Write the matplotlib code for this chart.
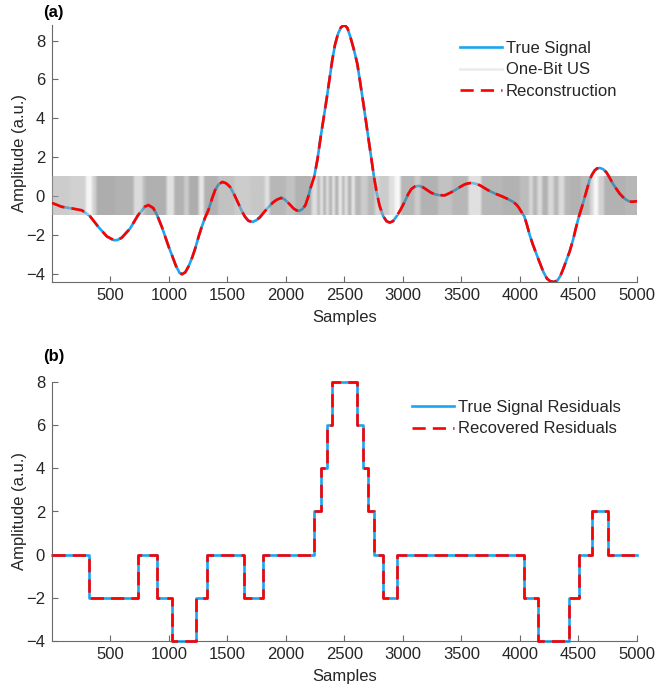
import numpy as np
import matplotlib.pyplot as plt
from matplotlib.lines import Line2D

plt.rcParams['font.family'] = ['Liberation Sans', 'DejaVu Sans']

# (a) true signal (sample index, amplitude)
sig_x = [1, 85, 170, 256, 320, 398, 469, 530, 560, 597, 668, 735, 795, 824, 866, 900,
         940, 980, 1000, 1026, 1060, 1090, 1112, 1140, 1170, 1200, 1225, 1256, 1280,
         1310, 1337, 1365, 1394, 1425, 1457, 1490, 1523, 1560, 1594, 1625, 1651, 1680,
         1714, 1750, 1780, 1815, 1851, 1890, 1923, 1960, 1990, 2030, 2066, 2090, 2114,
         2140, 2166, 2190, 2209, 2242, 2270, 2296, 2322, 2348, 2372, 2396, 2420, 2445,
         2470, 2500, 2525, 2550, 2580, 2610, 2633, 2656, 2680, 2704, 2728, 2752, 2775,
         2800, 2832, 2860, 2886, 2915, 2951, 2980, 3014, 3045, 3071, 3100, 3137, 3170,
         3200, 3240, 3271, 3310, 3357, 3400, 3443, 3490, 3529, 3560, 3586, 3620, 3657,
         3690, 3729, 3760, 3787, 3830, 3872, 3910, 3943, 3970, 3990, 4010, 4037, 4060,
         4085, 4110, 4135, 4160, 4199, 4230, 4256, 4290, 4320, 4345, 4370, 4398, 4425,
         4454, 4480, 4504, 4530, 4554, 4580, 4596, 4618, 4639, 4660, 4682, 4710, 4738,
         4765, 4795, 4825, 4852, 4880, 4909, 4930, 4952, 4975, 5000]
sig_y = [-0.36, -0.56, -0.64, -0.74, -1.0, -1.6, -2.08, -2.28, -2.27, -2.15, -1.68, -1.0,
         -0.55, -0.47, -0.62, -1.0, -1.6, -2.3, -2.65, -3.05, -3.6, -3.95, -4.03, -3.93,
         -3.6, -3.15, -2.7, -2.05, -1.6, -1.1, -0.74, -0.2, 0.29, 0.6, 0.72, 0.65, 0.46,
         0.05, -0.40, -0.8, -1.08, -1.28, -1.34, -1.24, -1.08, -0.82, -0.57, -0.33, -0.19,
         -0.10, -0.18, -0.42, -0.65, -0.74, -0.77, -0.68, -0.48, -0.05, 0.38, 1.0, 1.9,
         3.0, 4.0, 5.0, 6.0, 7.0, 7.8, 8.35, 8.68, 8.8, 8.65, 8.2, 7.55, 6.8, 5.9, 5.0,
         4.0, 3.0, 2.0, 1.0, 0.2, -0.5, -1.05, -1.3, -1.37, -1.3, -1.0, -0.7, -0.31, 0.1,
         0.35, 0.48, 0.52, 0.45, 0.33, 0.17, 0.09, 0.04, 0.03, 0.15, 0.29, 0.47, 0.60,
         0.65, 0.67, 0.63, 0.55, 0.43, 0.29, 0.2, 0.12, 0.02, -0.09, -0.2, -0.31, -0.45,
         -0.6, -0.8, -1.05, -1.5, -2.05, -2.5, -2.9, -3.3, -3.9, -4.25, -4.38, -4.43,
         -4.35, -4.12, -3.75, -3.3, -2.85, -2.25, -1.6, -1.05, -0.55, -0.05, 0.5, 0.84,
         1.12, 1.32, 1.42, 1.44, 1.38, 1.22, 0.95, 0.62, 0.35, 0.12, -0.06, -0.2, -0.27,
         -0.3, -0.29, -0.27]
recon_y = sig_y  # reconstruction lies on top of the true signal

# one-bit samples: apparent grey level of the +-1 band between these sample edges
bit_edges = [1, 150, 290, 345, 380, 540, 700, 775, 800, 980,
             1045, 1130, 1170, 1255, 1300, 1420, 1560, 1700, 1820, 1860,
             2000, 2080, 2220, 2270, 2290, 2320, 2340, 2370, 2395, 2420,
             2450, 2480, 2500, 2530, 2560, 2590, 2640, 2700, 2760, 2800,
             2880, 2930, 2980, 3100, 3150, 3300, 3420, 3560, 3670, 3850,
             4000, 4080, 4110, 4150, 4190, 4240, 4290, 4330, 4380, 4430,
             4520, 4600, 4630, 4670, 4720, 4800, 4900, 5000]
bit_grey = [0.80, 0.82, 0.96, 0.82, 0.68, 0.70, 0.86, 0.75, 0.69, 0.88,
            0.70, 0.80, 0.68, 0.90, 0.70, 0.76, 0.80, 0.78, 0.88, 0.72,
            0.76, 0.70, 0.87, 0.70, 0.88, 0.68, 0.86, 0.70, 0.90, 0.70,
            0.92, 0.70, 0.88, 0.70, 0.90, 0.72, 0.80, 0.72, 0.84, 0.80,
            0.88, 0.97, 0.72, 0.80, 0.70, 0.76, 0.72, 0.88, 0.72, 0.70,
            0.74, 0.85, 0.72, 0.86, 0.70, 0.85, 0.72, 0.86, 0.72, 0.70,
            0.74, 0.85, 0.97, 0.82, 0.70, 0.70, 0.72]

# (b) residuals: step starts and levels
res_x = [1, 320, 735, 900, 1026, 1231, 1322, 1644, 1806, 2242, 2296, 2348, 2396,
         2610, 2656, 2704, 2752, 2832, 2951, 4037, 4151, 4416, 4504, 4618, 4755, 5000]
res_y = [0, -2, 0, -2, -4, -2, 0, -2, 0, 2, 4, 6, 8, 6, 4, 2, 0, -2, 0, -2, -4, -2,
         0, 2, 0, 0]
rec_res_y = res_y

blue = '#1aa7ef'
red = '#ff0000'
txt = '#262626'
axc = '#6a6a6a'
fs = 12

fig = plt.figure(figsize=(6.56, 6.89), dpi=100)
ax1 = fig.add_axes([52/656, 1 - 282/689, 585/656, 257/689])
ax2 = fig.add_axes([52/656, 1 - 641/689, 585/656, 259/689])


def style(ax):
    for s in ['top', 'right']:
        ax.spines[s].set_visible(False)
    for s in ['left', 'bottom']:
        ax.spines[s].set_color(axc)
        ax.spines[s].set_linewidth(0.8)
    ax.tick_params(direction='in', length=4, width=0.8, color=axc,
                   labelcolor=txt, labelsize=fs)
    ax.tick_params(axis='x', pad=4.5)
    ax.tick_params(axis='y', pad=5)
    ax.set_xlim(1, 5000)
    ax.set_xticks(np.arange(500, 5001, 500))
    ax.set_xlabel('Samples', fontsize=fs, color=txt, labelpad=5)
    ax.set_ylabel('Amplitude (a.u.)', fontsize=fs, color=txt, labelpad=-1)


# ---- (a)
ax1.plot(sig_x, sig_y, color=blue, lw=1.9, zorder=2)
a = 0.55
cols = (np.array(bit_grey) - (1 - a)) / a
# one column per sample, softened a little like the overlapping one-bit strokes
n = np.arange(1, 5001)
row = cols[np.clip(np.searchsorted(bit_edges, n, side='right') - 1, 0, len(cols) - 1)]
k = np.ones(25) / 25
row = np.convolve(np.pad(row, 12, mode='edge'), k, mode='valid')
ax1.imshow(row[None, :], cmap='gray', vmin=0, vmax=1, alpha=a, aspect='auto',
           extent=[1, 5000, -1, 1], interpolation='bilinear', zorder=3)
ax1.plot(sig_x, recon_y, color=red, lw=1.9, dashes=(5, 2.7), zorder=4)
style(ax1)
ax1.set_xlim(1, 5000)
ax1.set_ylim(min(sig_y), max(sig_y))
ax1.set_yticks(np.arange(-4, 9, 2))
h = [Line2D([], [], color=blue, lw=1.9),
     Line2D([], [], color='#ececec', lw=1.9),
     Line2D([], [], color=red, lw=1.9, dashes=(5, 2.7))]
fig.legend(h, ['True Signal', 'One-Bit US', 'Reconstruction'], loc='upper left',
           bbox_to_anchor=(460/656, 1 - 41/689), frameon=False, fontsize=fs,
           handlelength=2.5, handletextpad=0.25, labelspacing=0.38, borderpad=0,
           borderaxespad=0, labelcolor=txt)

# ---- (b)
ax2.step(res_x, res_y, where='post', color=blue, lw=1.9, clip_on=False, zorder=2,
         label='True Signal Residuals')
ax2.step(res_x, rec_res_y, where='post', color=red, lw=1.9, dashes=(5, 2.7),
         clip_on=False, zorder=3, label='Recovered Residuals')
style(ax2)
ax2.set_ylim(-4, 8)
ax2.set_yticks(np.arange(-4, 9, 2))
fig.legend(*ax2.get_legend_handles_labels(), loc='upper left',
           bbox_to_anchor=(412/656, 1 - 400/689), frameon=False, fontsize=fs,
           handlelength=2.5, handletextpad=0.25, labelspacing=0.38, borderpad=0,
           borderaxespad=0, labelcolor=txt)

fig.text(43/656, 1 - 12/689, '(a)', fontsize=12, fontweight='bold', va='center')
fig.text(43/656, 1 - 357/689, '(b)', fontsize=12, fontweight='bold', va='center')

fig.savefig('out.png', dpi=100)
